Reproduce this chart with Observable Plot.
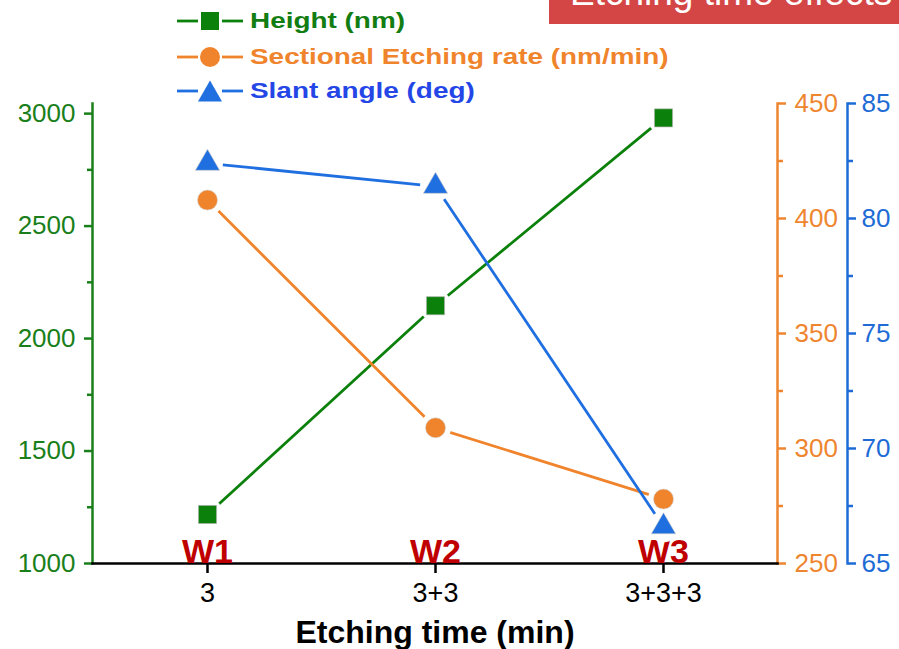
<!DOCTYPE html>
<html>
<head>
<meta charset="utf-8">
<script src="https://cdn.jsdelivr.net/npm/d3@7"></script>
<script src="https://cdn.jsdelivr.net/npm/@observablehq/plot@0.6"></script>
<style>
  body { margin: 0; background: #fff; }
  #wrap { position: relative; width: 899px; height: 649px; overflow: hidden; font-family: "Liberation Sans", Arial, sans-serif; }
  #chart { position: absolute; left: 0; top: 0; }
  #title { position: absolute; left: 549px; top: 0; }
  #legend { position: absolute; left: 177px; top: 0; }
  .row { position: absolute; left: 0; height: 28px; display: flex; align-items: center; white-space: nowrap; }
  .row svg { margin-right: 7px; flex: none; }
  .row span { display: inline-block; font-weight: bold; font-size: 22.5px; transform: scaleX(1.24); transform-origin: 0 50%; }
</style>
</head>
<body>
<div id="wrap">
  <div id="chart"></div>
  <svg id="title" width="350" height="24">
    <rect x="0" y="0" width="350" height="24" fill="#d44646"></rect>
    <text x="21" y="5" fill="#ffffff" font-size="37" font-family="Liberation Sans, Arial, sans-serif">Etching time effects</text>
  </svg>
  <div id="legend">
    <div class="row" style="top:7px">
      <svg width="66" height="28"><line x1="0" x2="21" y1="14" y2="14" stroke="#0b800b" stroke-width="2.8"/><line x1="45" x2="66" y1="14" y2="14" stroke="#0b800b" stroke-width="2.8"/><rect x="24" y="5" width="18" height="18" fill="#0b800b"/></svg>
      <span style="color:#127d12">Height (nm)</span>
    </div>
    <div class="row" style="top:43px">
      <svg width="66" height="28"><line x1="0" x2="21" y1="14" y2="14" stroke="#f0842c" stroke-width="2.8"/><line x1="45" x2="66" y1="14" y2="14" stroke="#f0842c" stroke-width="2.8"/><circle cx="33" cy="14" r="10" fill="#f0842c"/></svg>
      <span style="color:#f0842c">Sectional Etching rate (nm/min)</span>
    </div>
    <div class="row" style="top:77px">
      <svg width="66" height="28"><line x1="0" x2="21" y1="14" y2="14" stroke="#1f6fe0" stroke-width="2.8"/><line x1="45" x2="66" y1="14" y2="14" stroke="#1f6fe0" stroke-width="2.8"/><polygon points="33,3.5 21,24.5 45,24.5" fill="#1f6fe0"/></svg>
      <span style="color:#2546e6">Slant angle (deg)</span>
    </div>
  </div>
</div>
<script>
// ---- data ----
const categories = ["3", "3+3", "3+3+3"];
const waferLabels = ["W1", "W2", "W3"];
const heightNm = [1218, 2146, 2981];
const etchRate = [408, 309, 278];
const slantAngle = [82.4, 81.4, 66.6];

const leftTicks = [1000, 1500, 2000, 2500, 3000];
const leftMinor = [1250, 1750, 2250, 2750];
const rateTicks = [250, 300, 350, 400, 450];
const rateMinor = [275, 325, 375, 425];
const angleTicks = [65, 70, 75, 80, 85];
const angleMinor = [67.5, 72.5, 77.5, 82.5];

const leftDomain = [1000, 3045];
const rateDomain = [250, 450];
const angleDomain = [65, 85];

// ---- styles ----
const GREEN = "#0b800b", GREEN_AX = "#1a7f1a";
const ORANGE = "#f0842c", ORANGE_AX = "#ee8630";
const BLUE = "#1f6fe0", BLUE_AX = "#1e6bd6";
const WRED = "#c00000";
const FONT = "Liberation Sans, Arial, sans-serif";

const toLeft = (v, dom) => leftDomain[0] + (v - dom[0]) / (dom[1] - dom[0]) * (leftDomain[1] - leftDomain[0]);
const fromLeft = (v, dom) => dom[0] + (v - leftDomain[0]) / (leftDomain[1] - leftDomain[0]) * (dom[1] - dom[0]);

const rows = categories.map((c, i) => ({
  cat: c,
  w: waferLabels[i],
  h: heightNm[i],
  r: toLeft(etchRate[i], rateDomain),
  a: toLeft(slantAngle[i], angleDomain)
}));

const chart = Plot.plot({
  width: 899,
  height: 649,
  marginLeft: 92,
  marginRight: 122,
  marginTop: 103,
  marginBottom: 86,
  style: { fontFamily: FONT, background: "transparent", overflow: "visible" },
  x: { type: "point", domain: categories, padding: 0.5, axis: null },
  y: { domain: leftDomain, axis: null },
  marks: [
    // left axis (Height)
    Plot.frame({ anchor: "left", stroke: GREEN_AX, strokeWidth: 2.5 }),
    Plot.axisY(leftTicks, { anchor: "left", stroke: GREEN_AX, fill: GREEN_AX, strokeWidth: 2.5, tickSize: 8, tickPadding: 9, fontSize: 26, tickFormat: d => String(d) }),
    Plot.axisY(leftMinor, { anchor: "left", stroke: GREEN_AX, strokeWidth: 2.5, tickSize: 5, tickFormat: () => "" }),
    // right axis (rate)
    Plot.frame({ anchor: "right", stroke: ORANGE_AX, strokeWidth: 2.5 }),
    Plot.axisY(rateTicks.map(v => toLeft(v, rateDomain)), { anchor: "right", stroke: ORANGE_AX, fill: ORANGE_AX, strokeWidth: 2.5, tickSize: 8, tickPadding: 9, fontSize: 26, tickFormat: d => String(Math.round(fromLeft(d, rateDomain))) }),
    Plot.axisY(rateMinor.map(v => toLeft(v, rateDomain)), { anchor: "right", stroke: ORANGE_AX, strokeWidth: 2.5, tickSize: 5, tickFormat: () => "" }),
    // second right axis (angle)
    Plot.frame({ anchor: "right", stroke: BLUE_AX, strokeWidth: 2.5, dx: 70 }),
    Plot.axisY(angleTicks.map(v => toLeft(v, angleDomain)), { anchor: "right", dx: 70, stroke: BLUE_AX, fill: BLUE_AX, strokeWidth: 2.5, tickSize: 8, tickPadding: 6, fontSize: 26, tickFormat: d => String(Math.round(fromLeft(d, angleDomain))) }),
    Plot.axisY(angleMinor.map(v => toLeft(v, angleDomain)), { anchor: "right", dx: 70, stroke: BLUE_AX, strokeWidth: 2.5, tickSize: 5, tickFormat: () => "" }),
    // x axis
    Plot.frame({ anchor: "bottom", stroke: "#000", strokeWidth: 2.5 }),
    Plot.axisX({ anchor: "bottom", stroke: "#000", fill: "#000", strokeWidth: 2.5, tickSize: 10, tickPadding: 9, fontSize: 27, label: null }),
    Plot.text(["Etching time (min)"], { frameAnchor: "bottom", lineAnchor: "middle", dy: 69, fontSize: 32, fontWeight: "bold", fill: "#000" }),
    // wafer labels
    Plot.text(rows, { x: "cat", y: () => leftDomain[0], text: "w", lineAnchor: "bottom", dy: -0.5, fontSize: 34, fontWeight: "bold", fill: WRED }),
    // series lines with gaps near markers
    Plot.line(rows, { x: "cat", y: "h", stroke: GREEN, strokeWidth: 2.8 }),
    Plot.dot(rows, { x: "cat", y: "h", r: 16, fill: "#ffffff" }),
    Plot.line(rows, { x: "cat", y: "r", stroke: ORANGE, strokeWidth: 2.8 }),
    Plot.dot(rows, { x: "cat", y: "r", r: 15.5, fill: "#ffffff" }),
    Plot.line(rows, { x: "cat", y: "a", stroke: BLUE, strokeWidth: 2.8 }),
    Plot.dot(rows, { x: "cat", y: "a", r: 15.5, fill: "#ffffff" }),
    // markers
    Plot.dot(rows, { x: "cat", y: "h", symbol: "square", r: 10.2, fill: GREEN, stroke: "#b0b0b0", strokeWidth: 0.6 }),
    Plot.dot(rows, { x: "cat", y: "r", symbol: "circle", r: 10, fill: ORANGE, stroke: "#d0d0d0", strokeWidth: 0.6 }),
    Plot.dot(rows, { x: "cat", y: "a", symbol: "triangle", r: 9, fill: BLUE, stroke: "#c8c8c8", strokeWidth: 0.6 })
  ]
});

document.getElementById("chart").appendChild(chart);
</script>
</body>
</html>
